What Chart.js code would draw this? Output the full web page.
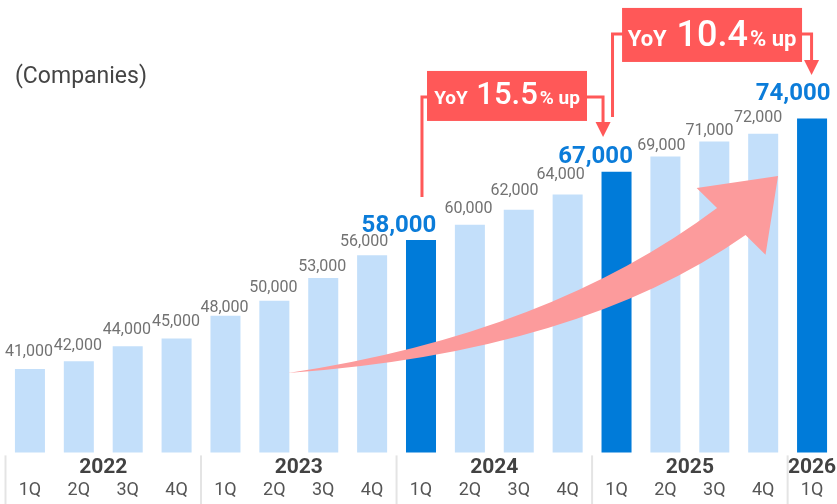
<!DOCTYPE html>
<html><head><meta charset="utf-8">
<script src="https://cdn.jsdelivr.net/npm/chart.js@4/dist/chart.umd.min.js"></script>
<style>html,body{margin:0;padding:0;background:#fff;}#wrap{width:837px;height:504px;position:relative;overflow:hidden}</style>
</head><body><div id="wrap"><canvas id="c" width="837" height="504"></canvas></div>
<script>
// ---- data ----
const quarters = ['1Q','2Q','3Q','4Q','1Q','2Q','3Q','4Q','1Q','2Q','3Q','4Q','1Q','2Q','3Q','4Q','1Q'];
const yearOfBar = ['2022','2022','2022','2022','2023','2023','2023','2023','2024','2024','2024','2024','2025','2025','2025','2025','2026'];
const companies = [41000,42000,44000,45000,48000,50000,53000,56000,58000,60000,62000,64000,67000,69000,71000,72000,74000];
const highlight = [false,false,false,false,false,false,false,false,true,false,false,false,true,false,false,false,true];
const yoyRates = ['15.5','10.4'];
const unitLabel = '(Companies)';

// ---- styles ----
const LIGHT = '#c3dffa', DARK = '#007bd9', BLUE_TXT = '#0b7cd9', RED = '#ff5858', PINK = '#fc9b9c';
const labelDx = [-1,-1,-0.8,-0.6,-1,-1,-1,-8,-22,-1.4,-4.3,-7,-21,-4,-4.8,-5,-19];
const labelGap = [12.6,11,11.7,13,3.4,8.3,7,9.3,8,11.7,15,15.7,9,6.7,6.7,11.7,19];

const decor = {
  id:'decor',
  afterDatasetsDraw(chart){
    const ctx = chart.ctx, xs = chart.scales.x, ys = chart.scales.y, ca = chart.chartArea;
    const X = i => xs.getPixelForValue(i), Y = v => ys.getPixelForValue(v);
    const P = p => [X(p[0]), Y(p[1])];
    const step = X(1) - X(0);
    ctx.save();
    // pink growth arrow
    const tail=P([5.279,40468]), c1=P([10.619,45610]), iu=P([14.056,62222]), bl=P([13.639,64858]),
          tip=P([15.304,66440]), br=P([15.048,56065]), il=P([14.639,58662]), c2=P([11.233,43237]);
    ctx.fillStyle = PINK;
    ctx.beginPath();
    ctx.moveTo(...tail); ctx.quadraticCurveTo(...c1, ...iu); ctx.lineTo(...bl); ctx.lineTo(...tip);
    ctx.lineTo(...br); ctx.lineTo(...il); ctx.quadraticCurveTo(...c2, ...tail); ctx.closePath(); ctx.fill();

    // value labels
    ctx.textAlign = 'center'; ctx.textBaseline = 'alphabetic';
    companies.forEach((v,i)=>{
      const x = X(i) + labelDx[i], y = Y(v) - labelGap[i];
      if (highlight[i]) { ctx.font = 'bold 24px Roboto'; ctx.fillStyle = BLUE_TXT; }
      else { ctx.font = '16px Roboto'; ctx.fillStyle = '#727272'; }
      ctx.fillText(v.toLocaleString('en-US'), x, y);
    });

    // YoY connectors
    ctx.strokeStyle = RED; ctx.fillStyle = RED; ctx.lineWidth = 3; ctx.lineJoin = 'miter';
    const poly = pts => { ctx.beginPath(); pts.forEach((p,k)=>{ const q=P(p); k?ctx.lineTo(...q):ctx.moveTo(...q); }); ctx.stroke(); };
    const head = (t, baseVal) => { const q=P(t), b=Y(baseVal), hw=7.5; ctx.beginPath(); ctx.moveTo(q[0]-hw,b); ctx.lineTo(q[0]+hw,b); ctx.lineTo(q[0],q[1]); ctx.closePath(); ctx.fill(); };
    poly([[8.02,63672],[8.02,76856],[8.2,76856]]);
    poly([[11.3,76856],[11.724,76856],[11.724,73300]]);
    head([11.724,71582],73560);
    poly([[11.918,74219],[11.918,85162],[12.2,85162]]);
    poly([[15.7,85162],[15.99,85162],[15.99,81500]]);
    head([15.99,79756],81734);

    // YoY boxes
    const box = (i0,i1,v0,v1,baseV,rate,small,big) => {
      const x0=X(i0), x1=X(i1), y0=Y(v1), y1=Y(v0);
      ctx.fillStyle = RED; ctx.fillRect(x0,y0,x1-x0,y1-y0);
      const parts = [['YoY','bold '+small+'px Roboto',0],[rate,'500 '+big+'px Roboto',small*0.45],['% up','bold '+small+'px Roboto',2]];
      let w=0; parts.forEach(p=>{ctx.font=p[1]; p.w=ctx.measureText(p[0]).width; w+=p.w+p[2];});
      let x=(x0+x1)/2 - w/2; const by=Y(baseV);
      ctx.fillStyle='#fff'; ctx.textAlign='left';
      parts.forEach(p=>{ x+=p[2]; ctx.font=p[1]; ctx.fillText(p[0],x,by); x+=p.w; });
    };
    box(8.123,11.396,73692,80284,75933,yoyRates[0],19,31);
    box(12.113,15.795,81470,88590,83580,yoyRates[1],22,36);

    // unit label
    ctx.font = '23px Roboto'; ctx.fillStyle = '#454545'; ctx.textAlign='left'; ctx.textBaseline='middle';
    ctx.fillText(unitLabel, 15, 77);

    // year separators and year labels
    ctx.strokeStyle = '#e4e4e4'; ctx.lineWidth = 2;
    const groups = [];
    yearOfBar.forEach((y,i)=>{ if(!groups.length || groups[groups.length-1].y!==y) groups.push({y,a:i,b:i}); else groups[groups.length-1].b=i; });
    groups.forEach(g=>{
      const lx = X(g.a) - step/2;
      ctx.beginPath(); ctx.moveTo(lx, ca.bottom+3); ctx.lineTo(lx, chart.height); ctx.stroke();
      ctx.font='bold 21px Roboto'; ctx.fillStyle='#424242'; ctx.textAlign='center'; ctx.textBaseline='alphabetic';
      ctx.fillText(g.y, (X(g.a)+X(g.b))/2, ca.bottom+20.8);
    });
    ctx.restore();
  }
};

function draw(){
  new Chart(document.getElementById('c'), {
    type:'bar',
    data:{labels:quarters, datasets:[{data:companies, backgroundColor:highlight.map(h=>h?DARK:LIGHT), barPercentage:0.614, categoryPercentage:1}]},
    options:{
      responsive:false, animation:false, devicePixelRatio:1,
      layout:{padding:{left:5.5,right:0.5,top:20,bottom:0}},
      plugins:{legend:{display:false}, tooltip:{enabled:false}},
      scales:{
        y:{display:false, min:30000, max:87000},
        x:{grid:{display:false, drawTicks:false}, border:{display:false},
           ticks:{color:'#555', font:{family:'Roboto', size:18}, padding:27, maxRotation:0, autoSkip:false},
           afterFit: s => { s.height = 51.6; s.paddingLeft = 0; s.paddingRight = 0; }}
      }
    },
    plugins:[decor]
  });
}
Promise.all(['16px Roboto','bold 16px Roboto','500 16px Roboto'].map(f=>document.fonts.load(f).catch(()=>{}))).then(draw, draw);
</script></body></html>
